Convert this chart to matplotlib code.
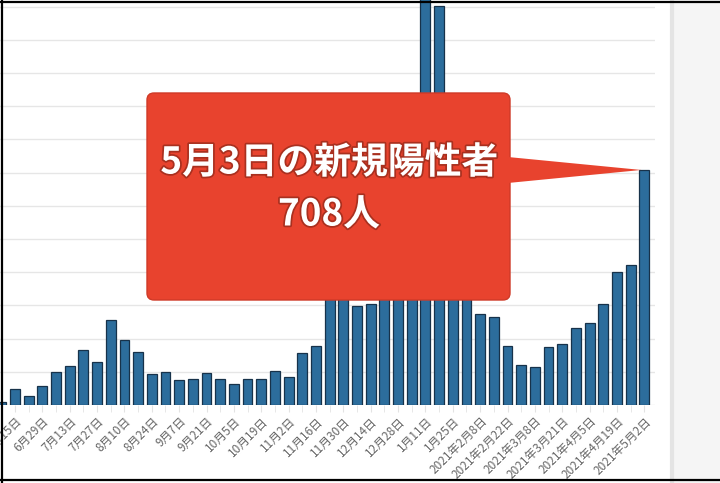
import matplotlib
matplotlib.use('Agg')
from matplotlib import pyplot as plt
from matplotlib.patches import FancyBboxPatch, Polygon, Rectangle
from matplotlib.lines import Line2D
import matplotlib.patheffects as pe

plt.rcParams['font.family'] = ['Noto Sans CJK JP', 'DejaVu Sans']

# 週ごとの新規陽性者数（6月8日の週 〜 2021年5月2日）
values = [10, 47, 26, 57, 100, 117, 166, 130, 256, 196,
          160, 93, 99, 75, 78, 96, 77, 63, 77, 77,
          101, 85, 157, 178, 340, 350, 298, 304, 420, 560,
          800, 1250, 1202, 700, 420, 274, 264, 177, 120, 114,
          174, 185, 231, 247, 304, 401, 423, 708]
# 2週ごとのラベル
tick_labels = ['6月15日', '6月29日', '7月13日', '7月27日', '8月10日', '8月24日',
               '9月7日', '9月21日', '10月5日', '10月19日', '11月2日', '11月16日',
               '11月30日', '12月14日', '12月28日', '1月11日', '1月25日',
               '2021年2月8日', '2021年2月22日', '2021年3月8日', '2021年3月21日',
               '2021年4月5日', '2021年4月19日', '2021年5月2日']
callout_title = '5月3日の新規陽性者'
callout_value = '708人'

W, H = 720, 483
fig = plt.figure(figsize=(W / 100, H / 100), dpi=100)
fig.patch.set_facecolor('white')

# 右側のグレーパネル
fig.add_artist(Rectangle((670 / W, 0), 50 / W, 1, transform=fig.transFigure,
                         facecolor='#f5f5f5', edgecolor='none', zorder=0))
fig.add_artist(Line2D([672 / W, 672 / W], [0, 1], transform=fig.transFigure,
                      color='#e4e4e4', lw=3, zorder=0))

ax = fig.add_axes([0, 78 / H, 655 / W, 405 / H])
ax.set_facecolor('none')
x = list(range(len(values)))
ax.bar(x, values, width=0.72, color='#2c6d9c', edgecolor='#17324a', linewidth=0.9, zorder=2)
ax.set_xlim(-0.095, 47.78)
ax.set_ylim(0, 1220)
ax.set_yticks(range(0, 1300, 100))
ax.yaxis.grid(True, color='#e6e6e6', linewidth=1)
ax.set_axisbelow(True)
ax.tick_params(axis='y', left=False, labelleft=False)
for s in ax.spines.values():
    s.set_visible(False)

ax.set_xticks(x, minor=True)
ax.set_xticks(range(1, len(values), 2))
ax.set_xticklabels(tick_labels, rotation=45, ha='right', va='top',
                   rotation_mode='anchor', fontsize=8.5, color='#666666')
ax.tick_params(axis='x', which='both', length=5, color='#e3e3e3', pad=2)

# 吹き出し（ピクセル→インチ座標）
tr = fig.dpi_scale_trans
box = FancyBboxPatch((1.47, (H - 300) / 100), 3.63, 2.07,
                     boxstyle='round,pad=0,rounding_size=0.07', transform=tr,
                     facecolor='#e8432e', edgecolor='#cf3a27', linewidth=1, zorder=3)
fig.add_artist(box)
tip = ax.transData.transform((len(values) - 1, values[-1])) / fig.dpi
tri = Polygon([(5.08, (H - 157) / 100), (5.08, (H - 183) / 100), (tip[0] - 0.03, tip[1])],
              closed=True, transform=tr, facecolor='#e8432e', edgecolor='none', zorder=3)
fig.add_artist(tri)

fx = [pe.withStroke(linewidth=2.5, foreground='#a9301f')]
fig.text(3.29, (H - 163) / 100, callout_title, transform=tr, ha='center', va='center',
         fontsize=26.5, fontweight='bold', color='white', path_effects=fx, zorder=4)
fig.text(3.29, (H - 215) / 100, callout_value, transform=tr, ha='center', va='center',
         fontsize=26.5, fontweight='bold', color='white', path_effects=fx, zorder=4)

# 画像の枠線
for xs, ys in [([1.5, 1.5], [0, H]), ([0, W], [H - 1.5, H - 1.5]), ([0, W], [3, 3])]:
    fig.add_artist(Line2D([v / W for v in xs], [v / H for v in ys],
                          transform=fig.transFigure, color='black', lw=1.6, zorder=5))

plt.savefig('out.png', dpi=100)
